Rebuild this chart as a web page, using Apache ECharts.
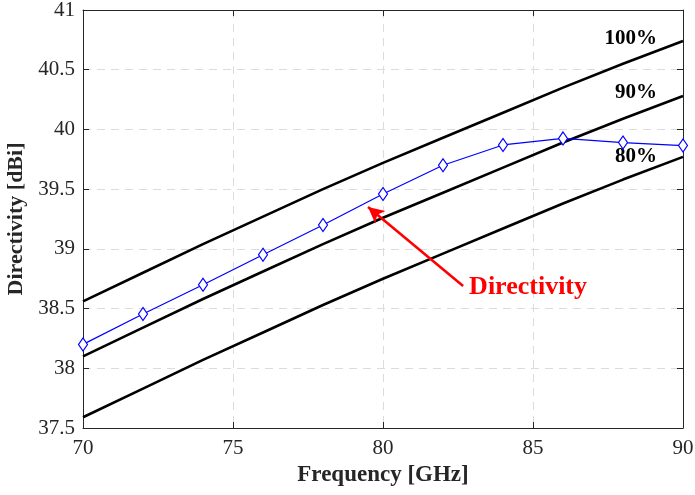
<!DOCTYPE html>
<html><head><meta charset="utf-8">
<script src="https://cdn.jsdelivr.net/npm/echarts@6/dist/echarts.min.js"></script>
<style>html,body{margin:0;padding:0;background:#fff}#c{width:695px;height:495px}</style>
</head><body><div id="c"></div>
<script>
const freqs = [70,72,74,76,78,80,82,84,86,88,90];
const directivity = [38.20,38.455,38.70,38.95,39.20,39.46,39.70,39.87,39.925,39.89,39.865];
const refFreqs = [70,72,74,76,78,80,82,84,86,88,90];
const eff100 = [38.56,38.80,39.04,39.27,39.50,39.72,39.93,40.14,40.35,40.55,40.74];
const eff90 = [38.10,38.34,38.58,38.81,39.04,39.26,39.47,39.68,39.89,40.09,40.28];
const eff80 = [37.59,37.83,38.07,38.30,38.53,38.75,38.96,39.17,39.38,39.58,39.77];
const effLabels = ['100%','90%','80%'];
const effLabelPos = [[89.13,40.757],[89.13,40.305],[89.13,39.769]];
const xTicks = [70,75,80,85,90];
const yTicks = [37.5,38,38.5,39,39.5,40,40.5,41];

const FONT = '"Liberation Serif","Times New Roman",serif';
const chart = echarts.init(document.getElementById('c'));
const pair = (xs, ys) => xs.map((x,i)=>[x, ys[i]]);
const axisLineStyle = {color:'#262626', width:1};
function effSeries(vals, i){
  return {type:'line', xAxisIndex:0, yAxisIndex:0, data: pair(refFreqs, vals), showSymbol:false, smooth:false,
    lineStyle:{color:'#000', width:2.6}, silent:true, z:2,
    markPoint:{symbol:'circle', symbolSize:0, silent:true, data:[{coord:effLabelPos[i],
      label:{show:true, position:'left', distance:0, formatter:effLabels[i], fontFamily:FONT, fontWeight:'bold', fontSize:21, color:'#000'}}]}
  };
}
chart.setOption({
  animation:false,
  grid:{left:83, right:12, top:10, bottom:67, containLabel:false, outerBoundsMode:'none'},
  xAxis:[{type:'value', min:70, max:90, interval:5, position:'bottom',
      name:'Frequency [GHz]', nameLocation:'middle', nameGap:34,
      nameTextStyle:{fontFamily:FONT, fontWeight:'bold', fontSize:23, color:'#262626'},
      axisLine:{lineStyle:axisLineStyle}, axisTick:{inside:true, length:6, lineStyle:axisLineStyle},
      axisLabel:{fontFamily:FONT, fontSize:21, color:'#262626', margin:10},
      splitLine:{show:true, lineStyle:{color:'#dcdcdc', type:[8,6], width:1}}},
    {type:'value', min:70, max:90, interval:5, position:'top',
      axisLine:{lineStyle:axisLineStyle}, axisTick:{inside:true, length:6, lineStyle:axisLineStyle},
      axisLabel:{show:false}, splitLine:{show:false}}],
  yAxis:[{type:'value', min:37.5, max:41, interval:0.5, position:'left',
      name:'Directivity [dBi]', nameLocation:'middle', nameGap:49,
      nameTextStyle:{fontFamily:FONT, fontWeight:'bold', fontSize:22, color:'#262626'},
      axisLine:{show:true, lineStyle:axisLineStyle}, axisTick:{show:true, inside:true, length:6, lineStyle:axisLineStyle},
      axisLabel:{fontFamily:FONT, fontSize:21, color:'#262626', margin:8},
      splitLine:{show:true, lineStyle:{color:'#dcdcdc', type:[8,6], width:1}}},
    {type:'value', min:37.5, max:41, interval:0.5, position:'right',
      axisLine:{show:true, lineStyle:axisLineStyle}, axisTick:{show:true, inside:true, length:6, lineStyle:axisLineStyle},
      axisLabel:{show:false}, splitLine:{show:false}}],
  series:[
    effSeries(eff100,0), effSeries(eff90,1), effSeries(eff80,2),
    {type:'line', xAxisIndex:0, yAxisIndex:0, data: pair(freqs, directivity),
      symbol:'diamond', symbolSize:[9,13], showAllSymbol:true,
      itemStyle:{color:'#fff', borderColor:'#0000ff', borderWidth:1.2},
      lineStyle:{color:'#0000ff', width:1.2}, z:5,
      markLine:{silent:true, symbol:['none','arrow'], symbolSize:[12,16],
        lineStyle:{color:'#ff0000', width:2.6, type:'solid'}, label:{show:false},
        data:[[{coord:[82.67,38.69]},{coord:[79.5,39.35]}]]},
      markPoint:{symbol:'circle', symbolSize:0, silent:true, data:[{coord:[82.87,38.68],
        label:{show:true, position:'right', distance:0, formatter:'Directivity', fontFamily:FONT, fontWeight:'bold', fontSize:26, color:'#ff0000'}}]}
    }
  ]
});
</script></body></html>
